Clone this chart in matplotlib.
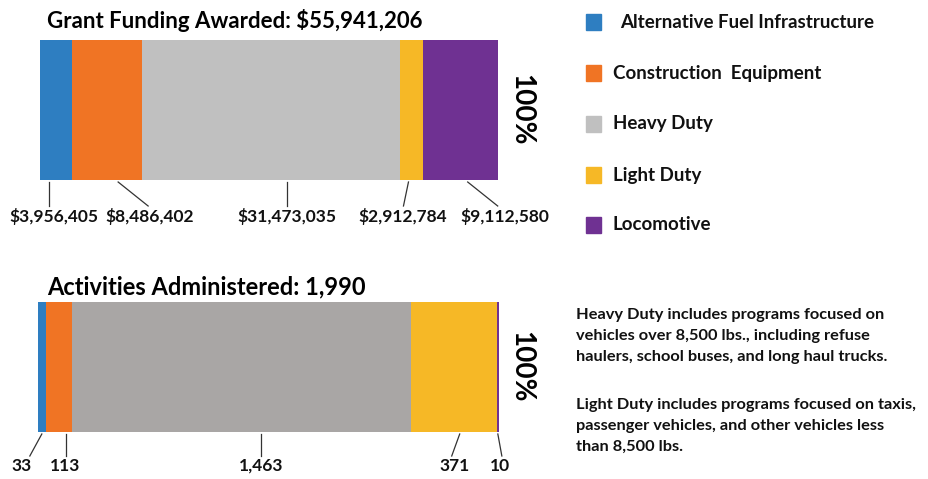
import matplotlib
matplotlib.use("Agg")
import matplotlib.pyplot as plt
from matplotlib.lines import Line2D
from matplotlib.patches import Rectangle

plt.rcParams['font.family'] = ['Lato', 'DejaVu Sans']
plt.rcParams['font.weight'] = 'bold'

############## data ##############
categories = ["Alternative Fuel Infrastructure", "Construction  Equipment",
              "Heavy Duty", "Light Duty", "Locomotive"]
funding = [3956405, 8486402, 31473035, 2912784, 9112580]
funding_labels = ["$3,956,405", "$8,486,402", "$31,473,035", "$2,912,784", "$9,112,580"]
activities = [33, 113, 1463, 371, 10]
activity_labels = ["33", "113", "1,463", "371", "10"]
funding_title = "Grant Funding Awarded: $55,941,206"
activity_title = "Activities Administered: 1,990"
note_heavy = ("Heavy Duty includes programs focused on\n"
              "vehicles over 8,500 lbs., including refuse\n"
              "haulers, school buses, and long haul trucks.")
note_light = ("Light Duty includes programs focused on taxis,\n"
              "passenger vehicles, and other vehicles less\n"
              "than 8,500 lbs.")

colors = ["#2E7EC1", "#F07424", "#C0C0C0", "#F6B826", "#6F3192"]
colors_bottom = ["#2E7EC1", "#F07424", "#A9A6A5", "#F6B826", "#6F3192"]

W, H = 929, 479
fig = plt.figure(figsize=(W / 100, H / 100), dpi=100)

def px_axes(x0, y0, x1, y1):
    # pixel box (top-left origin) -> figure axes
    return fig.add_axes([x0 / W, 1 - y1 / H, (x1 - x0) / W, (y1 - y0) / H])

def px_line(xa, ya, xb, yb):
    fig.add_artist(Line2D([xa / W, xb / W], [1 - ya / H, 1 - yb / H],
                          transform=fig.transFigure, color="#333333", lw=0.9))

def stacked(ax, values, cols, labels, offsets, bar_bottom, line_end, text_y, fs):
    total = sum(values)
    left = 0
    ax.set_xlim(0, total)
    ax.set_ylim(0, 1)
    ax.axis("off")
    x0 = ax.get_position().x0 * W
    scale = ax.get_position().width * W / total
    for v, c, lab, (txt_dx, s_dx, e_dx) in zip(values, cols, labels, offsets):
        ax.barh(0.5, v, left=left, height=1, color=c, edgecolor="none")
        cx = x0 + (left + v / 2) * scale
        px_line(cx + s_dx, bar_bottom, cx + e_dx, line_end)
        fig.text((cx + txt_dx) / W, 1 - text_y / H, lab, ha="center", va="center",
                 fontsize=fs, fontweight="bold", color="#111111")
        left += v

# top chart
ax1 = px_axes(40, 40, 498, 180)
stacked(ax1, funding, colors, funding_labels,
        [(-2, -7, -7), (43, 11, 41), (16, 16, 16), (-9, -3, -8), (44, 7, 37)],
        182, 206, 217, 12.5)
fig.text(47 / W, 1 - 20 / H, funding_title, ha="left", va="center",
         fontsize=16, fontweight="bold")
fig.text(521 / W, 1 - 110 / H, "100%", rotation=-90, ha="center", va="center",
         fontsize=20, fontweight="bold")

# bottom chart
ax2 = px_axes(38, 302, 499, 432)
stacked(ax2, activities, colors_bottom, activity_labels,
        [(-20, 0, -12), (6, 7, 7), (20, 20, 20), (1, 6, -2), (2, 0, 4)],
        434, 456, 466, 12.5)
fig.text(47 / W, 1 - 287 / H, activity_title, ha="left", va="center",
         fontsize=17, fontweight="bold")
fig.text(521 / W, 1 - 367 / H, "100%", rotation=-90, ha="center", va="center",
         fontsize=20, fontweight="bold")

# legend
leg_y = [22, 73, 124, 175, 225]
for i, (cat, c) in enumerate(zip(categories, colors)):
    fig.add_artist(Rectangle(((586) / W, 1 - (leg_y[i] + 8) / H), 15 / W, 16 / H,
                             transform=fig.transFigure, color=c))
    tx = 620 if i == 0 else 613
    fig.text(tx / W, 1 - leg_y[i] / H, cat, ha="left", va="center",
             fontsize=13.5, fontweight="bold", color="#111111")

# notes
for txt, top in [(note_heavy, 308), (note_light, 398)]:
    fig.text(576 / W, 1 - top / H, txt, ha="left", va="top", fontsize=11.8,
             fontweight="bold", color="#111111", linespacing=1.62)

fig.savefig("out.png", dpi=100)
